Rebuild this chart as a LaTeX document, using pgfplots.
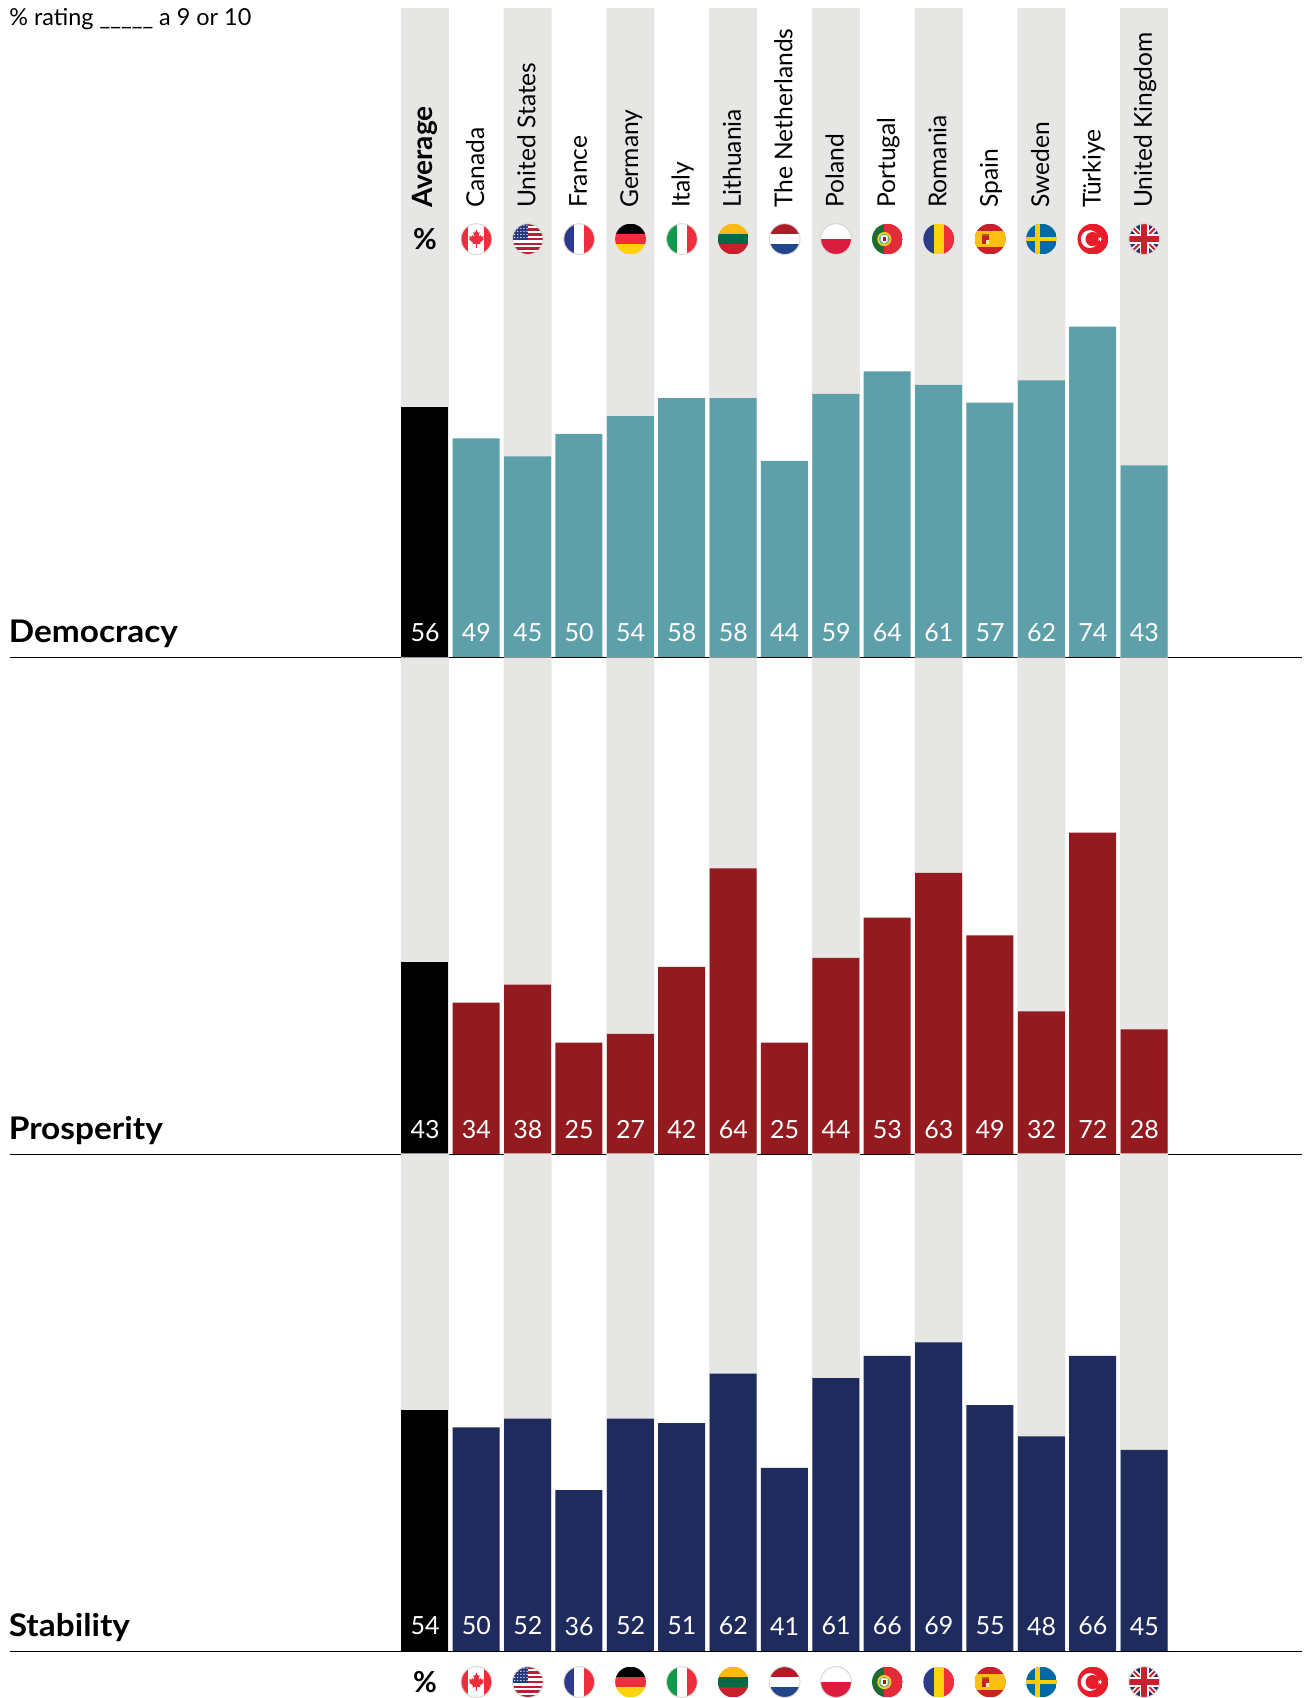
\documentclass[border=0pt]{standalone}
\usepackage{pgfplots}
\usepackage{pgfplotstable}
\usepackage{fontspec}
\pgfplotsset{compat=1.18}
\setmainfont{Lato}
\newfontfamily\secf[FakeStretch=1.07]{Lato Bold}
\definecolor{band}{HTML}{E6E6E4}
\definecolor{teal}{HTML}{5EA0AA}
\definecolor{crim}{HTML}{931A1E}
\definecolor{navy}{HTML}{1F2B5C}
\definecolor{fred}{HTML}{EE2E3C}
\definecolor{fblue}{HTML}{2B3A8C}
\definecolor{fyel}{HTML}{FFD20F}
\definecolor{ring}{HTML}{D8D4D0}
\definecolor{fgreen}{HTML}{129A4A}
\definecolor{ltgreen}{HTML}{006A44}
\definecolor{ltyel}{HTML}{FDB913}
\definecolor{nlred}{HTML}{AE1C28}
\definecolor{nlblue}{HTML}{21468B}
\definecolor{plred}{HTML}{DC1C3F}
\definecolor{ptgreen}{HTML}{1F6B35}
\definecolor{esred}{HTML}{C8202C}
\definecolor{esyel}{HTML}{FBBF12}
\definecolor{seblue}{HTML}{006AA7}
\definecolor{seyel}{HTML}{FECC00}
\definecolor{trred}{HTML}{E81C2B}
\definecolor{ukblue}{HTML}{24306E}
\definecolor{ukred}{HTML}{C8202F}
\definecolor{usred}{HTML}{B22234}

\pgfplotstableread{
x dem pros stab
0 56 43 54
1 49 34 50
2 45 38 52
3 50 25 36
4 54 27 52
5 58 42 51
6 58 64 62
7 44 25 41
8 59 44 61
9 64 53 66
10 61 63 69
11 57 49 55
12 62 32 48
13 74 72 66
14 43 28 45
}\vals

\pgfplotstableread{
x top
0 1
2 1
4 1
6 1
8 1
10 1
12 1
14 1
}\bands

\newcommand\defflag[3]{%
 \tikzset{flag #1/.pic={%
  \begin{scope}[x=7.7pt,y=7.7pt]
   \begin{scope}
    \clip (0,0) circle (1);
    #2
   \end{scope}
   \ifx#3\relax\else\draw[ring,line width=.45pt] (0,0) circle (1);\fi
  \end{scope}}}}

\defflag{CA}{\fill[white] (-1,-1) rectangle (1,1); \fill[fred] (-1,-1) rectangle (-.52,1); \fill[fred] (.52,-1) rectangle (1,1);
 \fill[fred] (0,.62) -- (.1,.4) -- (.2,.46) -- (.15,.14) -- (.28,.26) -- (.32,.16) -- (.48,.18) -- (.42,.02) -- (.48,-.02) -- (.22,-.24) -- (.26,-.34) -- (.03,-.3) -- (.03,-.58) -- (-.03,-.58) -- (-.03,-.3) -- (-.26,-.34) -- (-.22,-.24) -- (-.48,-.02) -- (-.42,.02) -- (-.48,.18) -- (-.32,.16) -- (-.28,.26) -- (-.15,.14) -- (-.2,.46) -- (-.1,.4) -- cycle;}{1}
\defflag{US}{\fill[white] (-1,-1) rectangle (1,1);
 \foreach \i in {0,2,4,6,8,10,12}{\fill[usred] (-1,{1-\i*2/13}) rectangle (1,{1-(\i+1)*2/13});}
 \fill[fblue!90!black] (-1,-.05) rectangle (.02,1);
 \foreach \a in {-.85,-.65,-.45,-.25,-.05}{\foreach \b in {.1,.3,.5,.7,.9}{\fill[white] (\a,\b) circle (.045);}}}{1}
\defflag{FR}{\fill[white] (-1,-1) rectangle (1,1); \fill[fblue] (-1,-1) rectangle (-.33,1); \fill[fred] (.33,-1) rectangle (1,1);}{1}
\defflag{DE}{\fill[black] (-1,.33) rectangle (1,1); \fill[fred] (-1,-.33) rectangle (1,.33); \fill[fyel] (-1,-1) rectangle (1,-.33);}{\relax}
\defflag{IT}{\fill[white] (-1,-1) rectangle (1,1); \fill[fgreen] (-1,-1) rectangle (-.33,1); \fill[fred] (.33,-1) rectangle (1,1);}{1}
\defflag{LT}{\fill[ltyel] (-1,.33) rectangle (1,1); \fill[ltgreen] (-1,-.33) rectangle (1,.33); \fill[esred] (-1,-1) rectangle (1,-.33);}{\relax}
\defflag{NL}{\fill[white] (-1,-1) rectangle (1,1); \fill[nlred] (-1,.33) rectangle (1,1); \fill[nlblue] (-1,-1) rectangle (1,-.33);}{1}
\defflag{PL}{\fill[white] (-1,0) rectangle (1,1); \fill[plred] (-1,-1) rectangle (1,0);}{1}
\defflag{PT}{\fill[ptgreen] (-1,-1) rectangle (-.2,1); \fill[fred!95!black] (-.2,-1) rectangle (1,1);
 \fill[fyel] (-.2,0) circle (.46); \fill[ptgreen!60!white] (-.2,0) circle (.36); \fill[white] (-.42,.24) -- (.02,.24) -- (.02,-.12) -- (-.2,-.3) -- (-.42,-.12) -- cycle; \fill[red!80!black] (-.3,.12) rectangle (-.1,-.12);}{\relax}
\defflag{RO}{\fill[fblue] (-1,-1) rectangle (-.33,1); \fill[fyel] (-.33,-1) rectangle (.33,1); \fill[fred] (.33,-1) rectangle (1,1);}{\relax}
\defflag{ES}{\fill[esred] (-1,-1) rectangle (1,1); \fill[esyel] (-1,-.5) rectangle (1,.5);
 \fill[esred] (-.5,-.3) rectangle (-.08,.2); \fill[orange!70!black] (-.5,.2) rectangle (-.08,.36); \fill[white!70!esyel] (-.29,-.3) rectangle (-.08,-.05);}{\relax}
\defflag{SE}{\fill[seblue] (-1,-1) rectangle (1,1); \fill[seyel] (-1,-.15) rectangle (1,.15); \fill[seyel] (-.42,-1) rectangle (-.12,1);}{\relax}
\defflag{TR}{\fill[trred] (-1,-1) rectangle (1,1); \fill[white] (-.2,0) circle (.58); \fill[trred] (-.02,0) circle (.46);
 \fill[white] (.64,0) -- (.32,.1) -- (.52,-.17) -- (.52,.17) -- (.32,-.1) -- cycle;}{\relax}
\defflag{UK}{\fill[ukblue] (-1,-1) rectangle (1,1);
 \draw[white,line width=2.6pt] (-1,-1) -- (1,1) (-1,1) -- (1,-1);
 \draw[ukred,line width=1pt] (-1,-1) -- (1,1) (-1,1) -- (1,-1);
 \fill[white] (-1,-.3) rectangle (1,.3); \fill[white] (-.3,-1) rectangle (.3,1);
 \fill[ukred] (-1,-.18) rectangle (1,.18); \fill[ukred] (-.18,-1) rectangle (.18,1);}{1}

\pgfplotsset{
 panel/.style={
  x=25.685pt, y=2.235pt,
  xmin=-8.08, xmax=17.07, ymin=0, ymax=#1,
  anchor=south west,
  axis x line=bottom, axis y line=none,
  x axis line style={-,black,line width=.75pt},
  xtick=\empty, ytick=\empty,
  clip=false, axis on top=true,
  ybar=0pt, bar shift=-0.1pt,
 },
 bandbars/.style={fill=band,draw=none,bar width=24pt,forget plot},
 valbars/.style={fill=#1,draw=none,bar width=23.5pt,
  visualization depends on={y \as \rawy},
  nodes near coords={\pgfmathprintnumber{\pgfplotspointmeta}},
  nodes near coords style={anchor=base,inner sep=0pt,text=white,
   font=\fontsize{12.5}{12.5}\selectfont,
   /pgf/number format/assume math mode=true,
   xshift=.1pt,
   yshift={(8-\rawy*2.235)*1pt}},
 },
 avg/.style={restrict x to domain=0:0,forget plot},
 cty/.style={restrict x to domain=1:14},
}
\newcommand\sect[1]{\node[anchor=base west,inner sep=0pt,font=\secf\fontsize{15.6}{16}\selectfont] at (axis cs:-8.11,3.4) {#1};}
\newcommand\cl[3][]{\node[rotate=90,anchor=mid west,inner sep=0pt,yshift=-1.3pt,font=#1\fontsize{12.3}{13}\selectfont] at (axis cs:#2,100.5) {#3};}

\begin{document}
\begin{tikzpicture}
\path[use as bounding box] (0,0) rectangle (653pt,849pt);

\begin{axis}[panel=145.3, at={(5pt,520.25pt)}]
 \addplot[bandbars] table[x=x,y expr=145.3] {\bands};
 \addplot[valbars=black,avg] table[x=x,y=dem] {\vals};
 \addplot[valbars=teal,cty] table[x=x,y=dem] {\vals};
 \sect{Democracy}
 \node[anchor=base west,inner sep=0pt,font=\fontsize{11.7}{13}\selectfont] at (axis cs:-8.1,141.3) {\% rating \_\_\_\_\_ a 9 or 10};
 \cl[\bfseries]{0}{\fontsize{14}{14}\selectfont Average}
 \cl{1}{Canada}\cl{2}{United States}\cl{3}{France}\cl{4}{Germany}\cl{5}{Italy}\cl{6}{Lithuania}
 \cl{7}{The Netherlands}\cl{8}{Poland}\cl{9}{Portugal}\cl{10}{Romania}\cl{11}{Spain}\cl{12}{Sweden}\cl{13}{Türkiye}\cl{14}{United Kingdom}
 \node[font=\bfseries\fontsize{14.5}{15}\selectfont,inner sep=0pt] at (axis cs:0,93.6) {\%};
 \pgfplotsinvokeforeach{1,...,14}{\coordinate (ft#1) at (axis cs:#1,93.6);}
\end{axis}

\begin{axis}[panel=111.2, at={(5pt,271.75pt)}]
 \addplot[bandbars] table[x=x,y expr=111.2] {\bands};
 \addplot[valbars=black,avg] table[x=x,y=pros] {\vals};
 \addplot[valbars=crim,cty] table[x=x,y=pros] {\vals};
 \sect{Prosperity}
\end{axis}

\begin{axis}[panel=111.2, y=2.24pt, at={(5pt,23.25pt)}]
 \addplot[bandbars] table[x=x,y expr=111.2] {\bands};
 \addplot[valbars=black,avg] table[x=x,y=stab] {\vals};
 \addplot[valbars=navy,cty] table[x=x,y=stab] {\vals};
 \sect{Stability}
 \node[font=\bfseries\fontsize{14.5}{15}\selectfont,inner sep=0pt] at (axis cs:0,-6.82) {\%};
 \pgfplotsinvokeforeach{1,...,14}{\coordinate (fb#1) at (axis cs:#1,-6.82);}
\end{axis}

\foreach \n/\c in {1/CA,2/US,3/FR,4/DE,5/IT,6/LT,7/NL,8/PL,9/PT,10/RO,11/ES,12/SE,13/TR,14/UK}{
 \pic at (ft\n) {flag \c};
 \pic at (fb\n) {flag \c};
}
\end{tikzpicture}
\end{document}
